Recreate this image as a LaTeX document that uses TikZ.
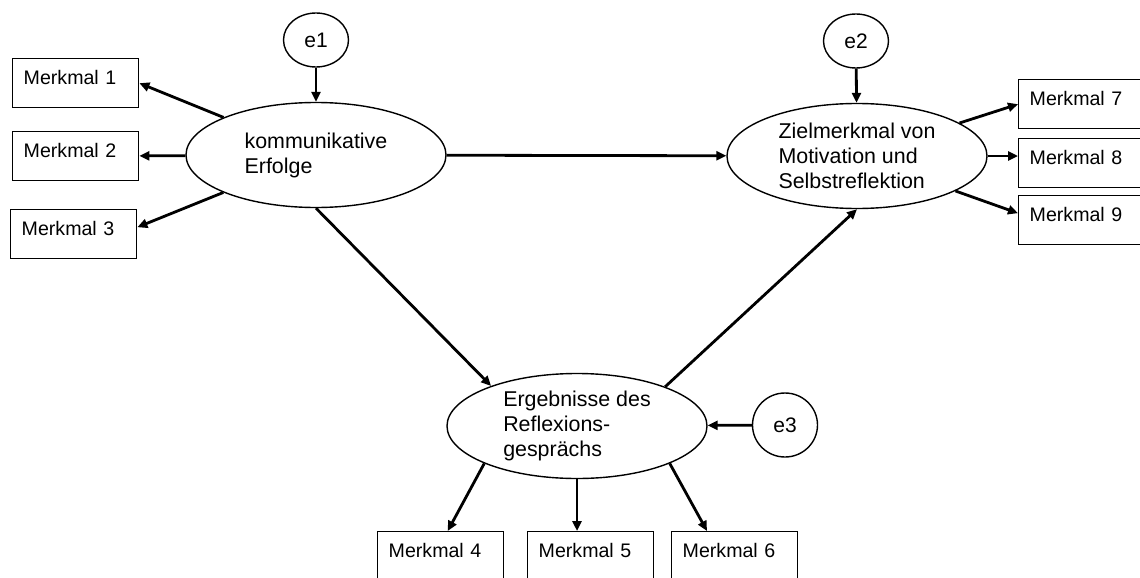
\documentclass[tikz,border=0pt]{standalone}
\usepackage{fontspec}
\setmainfont{Liberation Sans}
\usetikzlibrary{arrows.meta,positioning,shapes.geometric}

\begin{document}
\begin{tikzpicture}[
x=0.5pt,y=-0.5pt,
latent/.style={ellipse,draw,line width=0.7pt,minimum width=130pt,minimum height=52.5pt,inner sep=0pt,align=left,font=\fontsize{10.7}{12.5}\selectfont},
err/.style={ellipse,draw,line width=0.7pt,minimum width=32.5pt,minimum height=27pt,inner sep=0pt,font=\fontsize{10.5}{12.5}\selectfont},
obs/.style={rectangle,draw,line width=0.7pt,anchor=north west,text width=52pt,inner xsep=5.5pt,inner ysep=0pt,text height=13pt,text depth=11.5pt,align=left,font=\fontsize{9.8}{12}\selectfont},
arr/.style={-{Triangle[length=5pt,width=4.5pt]},line width=1.4pt}
]
\useasboundingbox (0,0) rectangle (1140,578);
\clip (0,0) rectangle (1140,578);

% latent variables
\node[latent] (komm) at (316,155) {kommunikative\\Erfolge};
\node[latent] (ziel) at (857,156) {Zielmerkmal von\\Motivation und\\Selbstreflektion};
\node[latent] (erg) at (577,426) {Ergebnisse des\\Reflexions-\\gesprächs};

% error terms
\node[err] (e1) at (316,40) {e1};
\node[err] (e2) at (856,41) {e2};
\node[err,minimum height=32pt] (e3) at (785,425) {e3};

% indicators
\node[obs] (m1) at (12,58) {Merkmal 1};
\node[obs] (m2) at (12,131) {Merkmal 2};
\node[obs] (m3) at (10,209) {Merkmal 3};
\node[obs] (m4) at (377,531) {Merkmal 4};
\node[obs] (m5) at (527,531) {Merkmal 5};
\node[obs] (m6) at (671,531) {Merkmal 6};
\node[obs] (m7) at (1018,79) {Merkmal 7};
\node[obs] (m8) at (1018,138) {Merkmal 8};
\node[obs] (m9) at (1018,195) {Merkmal 9};

\draw[arr] (e1) -- (komm);
\draw[arr] (e2) -- (ziel);
\draw[arr] (e3) -- (erg);

\draw[arr] (komm) -- (m1.east);
\draw[arr] (komm) -- (m2);
\draw[arr] (komm) -- ([yshift=3.5pt]m3.east);
\draw[arr] (ziel) -- (m7.west);
\draw[arr] (ziel) -- (ziel -| m8.west);
\draw[arr] (ziel) -- ([yshift=3.5pt]m9.west);

\draw[arr] (komm) -- (ziel);
\draw[arr] (komm.south) -- (erg.155);
\draw[arr] (erg.24) -- (ziel.south);

\draw[arr] (erg.202) -- ([xshift=3.5pt]m4.north);
\draw[arr] (erg) -- (erg |- m5.north);
\draw[arr] (erg.338) -- ([xshift=18pt]m6.north west);
\end{tikzpicture}
\end{document}
